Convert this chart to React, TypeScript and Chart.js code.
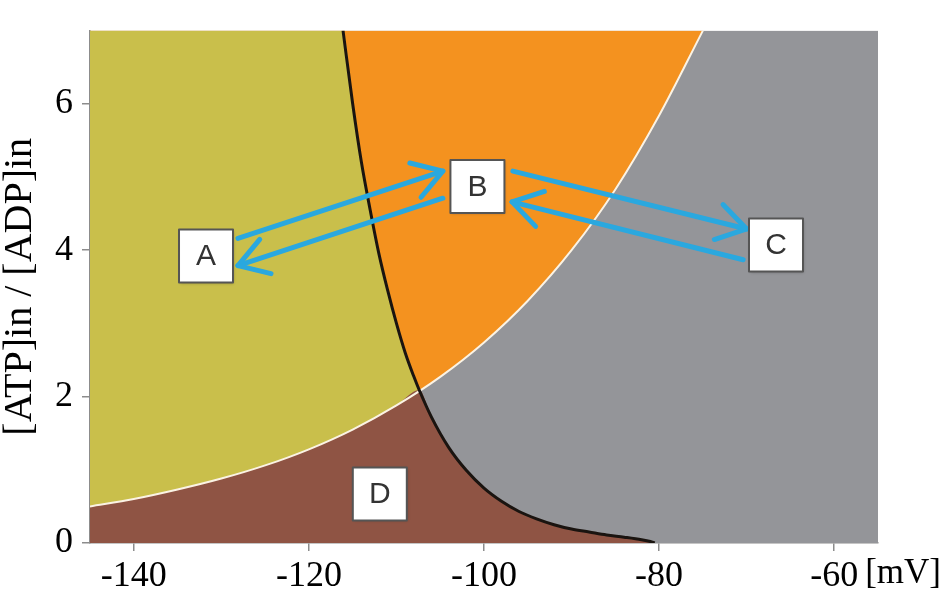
import React, { useEffect, useRef } from 'react';
import { Chart, registerables } from 'chart.js';

Chart.register(...registerables);

// Axes
const xMin = -145;
const xMax = -55;
const yMin = 0;
const yMax = 7;
const xTicks = [-140, -120, -100, -80, -60];
const yTicks = [0, 2, 4, 6];
const xUnit = '[mV]';
const yTitle = '[ATP]in / [ADP]in';

// Black boundary curve
const blackX = [-116.1, -115, -114, -113, -112, -111, -110, -109, -108, -107.4, -106, -104, -102, -100, -98, -96, -94, -92, -90, -88, -86, -84, -82, -81, -80.5];
const blackY = [7.0, 6.0, 5.2, 4.55, 3.95, 3.45, 3.0, 2.6, 2.27, 2.09, 1.72, 1.3, 0.99, 0.75, 0.57, 0.43, 0.33, 0.25, 0.19, 0.15, 0.11, 0.08, 0.045, 0.02, 0.0];

// White boundary curve
const whiteX = [-145, -140, -135, -130, -125, -120, -115, -110, -105, -100, -95, -90, -85, -80, -75];
const whiteY = [0.5, 0.6, 0.73, 0.88, 1.06, 1.28, 1.55, 1.88, 2.27, 2.74, 3.31, 4.0, 4.83, 5.84, 7.0];

// Crossing of the two curves
const crossX = -107.4;
const crossY = 2.09;

// Region colours
const greyColor = '#949599';
const orangeColor = '#f4921f';
const yellowColor = '#c9bf4b';
const brownColor = '#8f5444';

// Annotation boxes
const boxLabels = ['A', 'B', 'C', 'D'];
const boxX = [-131.75, -100.75, -66.65, -111.9];
const boxY = [3.92, 4.87, 4.07, 0.67];

// Arrows
const arrowFromX = [-128.1, -104.7, -96.7, -70.4];
const arrowFromY = [4.16, 4.71, 5.08, 3.87];
const arrowToX = [-104.7, -128.1, -70.0, -96.8];
const arrowToY = [5.08, 3.79, 4.29, 4.66];

const serif = '"Liberation Serif", "Times New Roman", Times, serif';
const sans = '"Liberation Sans", Arial, Helvetica, sans-serif';
const tickFontSize = 36;
const unitFontSize = 35;
const titleFontSize = 40;
const tickLen = 8;
const xTickPad = 4;

const pts = (xs: number[], ys: number[]) => xs.map((x, i) => ({ x, y: ys[i] }));

const annotPlugin = {
  id: 'annot',
  afterDatasetsDraw(chart: any) {
    const { ctx } = chart;
    const xs = chart.scales.x;
    const ys = chart.scales.y;
    ctx.save();
    ctx.strokeStyle = '#2aa8df';
    ctx.lineWidth = 5;
    ctx.lineCap = 'round';
    ctx.lineJoin = 'round';
    for (let i = 0; i < arrowFromX.length; i++) {
      const x1 = xs.getPixelForValue(arrowFromX[i]);
      const y1 = ys.getPixelForValue(arrowFromY[i]);
      const x2 = xs.getPixelForValue(arrowToX[i]);
      const y2 = ys.getPixelForValue(arrowToY[i]);
      ctx.beginPath();
      ctx.moveTo(x1, y1);
      ctx.lineTo(x2, y2);
      ctx.stroke();
      const ang = Math.atan2(y1 - y2, x1 - x2);
      const hl = 34;
      const ha = (32 * Math.PI) / 180;
      ctx.beginPath();
      ctx.moveTo(x2 + hl * Math.cos(ang + ha), y2 + hl * Math.sin(ang + ha));
      ctx.lineTo(x2, y2);
      ctx.lineTo(x2 + hl * Math.cos(ang - ha), y2 + hl * Math.sin(ang - ha));
      ctx.stroke();
    }
    const bw = 54;
    const bh = 53;
    for (let i = 0; i < boxLabels.length; i++) {
      const cx = xs.getPixelForValue(boxX[i]);
      const cy = ys.getPixelForValue(boxY[i]);
      ctx.fillStyle = '#ffffff';
      ctx.shadowColor = 'rgba(0,0,0,0.25)';
      ctx.shadowBlur = 3;
      ctx.shadowOffsetX = 1;
      ctx.shadowOffsetY = 1;
      ctx.fillRect(cx - bw / 2, cy - bh / 2, bw, bh);
      ctx.shadowColor = 'transparent';
      ctx.strokeStyle = '#555555';
      ctx.lineWidth = 2;
      ctx.strokeRect(cx - bw / 2, cy - bh / 2, bw, bh);
      ctx.fillStyle = '#333333';
      ctx.font = `30px ${sans}`;
      ctx.textAlign = 'center';
      ctx.textBaseline = 'middle';
      ctx.fillText(boxLabels[i], cx, cy + 1);
    }
    ctx.restore();
  },
  afterDraw(chart: any) {
    const { ctx } = chart;
    const xs = chart.scales.x;
    ctx.save();
    ctx.font = `${tickFontSize}px ${serif}`;
    const last = xTicks[xTicks.length - 1];
    const w = ctx.measureText(String(last)).width;
    ctx.font = `${unitFontSize}px ${serif}`;
    ctx.fillStyle = '#000';
    ctx.textAlign = 'left';
    ctx.textBaseline = 'top';
    const px = xs.getPixelForValue(last) + w / 2 + 7;
    ctx.fillText(xUnit, px, xs.top + tickLen + xTickPad + 1);
    ctx.restore();
  },
};

export default function App() {
  const ref = useRef<HTMLCanvasElement>(null);
  useEffect(() => {
    const yellowData = [{ x: xMin, y: yMax }, ...pts(blackX, blackY)];
    const brownData = [
      ...pts(whiteX, whiteY).filter((p) => p.x < crossX),
      { x: crossX, y: crossY },
      ...pts(blackX, blackY).filter((p) => p.x > crossX),
    ];
    const greyData = [
      { x: xMin, y: yMax },
      { x: xMax, y: yMax },
    ];
    const base = { pointRadius: 0, borderWidth: 0, cubicInterpolationMode: 'monotone' as const };
    const chart = new Chart(ref.current!, {
      type: 'line',
      data: {
        datasets: [
          { ...base, label: 'grey', data: greyData, backgroundColor: greyColor, fill: 'origin', order: 6 },
          { ...base, label: 'orange', data: pts(whiteX, whiteY), backgroundColor: orangeColor, fill: 'end', order: 5 },
          { ...base, label: 'yellow', data: yellowData, backgroundColor: yellowColor, fill: 'origin', order: 4 },
          { ...base, label: 'brown', data: brownData, backgroundColor: brownColor, fill: 'origin', order: 3 },
          { ...base, label: 'white', data: pts(whiteX, whiteY), borderColor: '#fbf3e4', borderWidth: 2, fill: false, order: 2 },
          { ...base, label: 'black', data: pts(blackX, blackY), borderColor: '#1a1410', borderWidth: 3, fill: false, order: 1 },
        ] as any,
      },
      options: {
        responsive: false,
        animation: false,
        parsing: false as any,
        layout: { padding: { top: 8, right: 63, left: 0, bottom: 0 } },
        plugins: { legend: { display: false }, tooltip: { enabled: false } },
        scales: {
          x: {
            type: 'linear',
            min: xMin,
            max: xMax,
            afterBuildTicks: (s: any) => {
              s.ticks = xTicks.map((v) => ({ value: v }));
            },
            afterFit: (s: any) => {
              s.height = 52;
            },
            grid: { drawOnChartArea: false, drawTicks: true, tickLength: tickLen, color: '#8c8c8c', lineWidth: 1.5 },
            border: { display: true, color: '#8c8c8c', width: 1.5 },
            ticks: {
              font: { family: serif, size: tickFontSize },
              color: '#000',
              padding: xTickPad,
              maxRotation: 0,
              autoSkip: false,
            },
          },
          y: {
            type: 'linear',
            min: yMin,
            max: yMax,
            afterBuildTicks: (s: any) => {
              s.ticks = yTicks.map((v) => ({ value: v }));
            },
            afterFit: (s: any) => {
              s.width = 90;
            },
            grid: { drawOnChartArea: false, drawTicks: true, tickLength: tickLen, color: '#8c8c8c', lineWidth: 1.5 },
            border: { display: true, color: '#8c8c8c', width: 1.5 },
            ticks: {
              font: { family: serif, size: tickFontSize },
              color: '#000',
              padding: 9,
              autoSkip: false,
            },
            title: {
              display: true,
              text: yTitle,
              font: { family: serif, size: titleFontSize, lineHeight: 1 },
              color: '#000',
              padding: { top: 0, bottom: 0 },
            },
          },
        },
      },
      plugins: [annotPlugin],
    });
    let alive = true;
    const refresh = () => {
      if (alive) chart.update();
    };
    if ((document as any).fonts) {
      (document as any).fonts.load(`${tickFontSize}px "Liberation Serif"`).then(refresh, refresh);
      (document as any).fonts.load(`30px "Liberation Sans"`).then(refresh, refresh);
      (document as any).fonts.ready.then(refresh);
    }
    const t1 = setTimeout(refresh, 100);
    const t2 = setTimeout(refresh, 400);
    return () => {
      alive = false;
      clearTimeout(t1);
      clearTimeout(t2);
      chart.destroy();
    };
  }, []);
  return (
    <div style={{ position: 'absolute', left: 0, top: 0, width: 941, height: 595, background: '#fff' }}>
      <div style={{ position: 'absolute', left: 0, top: 0, opacity: 0, pointerEvents: 'none', whiteSpace: 'nowrap' }}>
        <span style={{ fontFamily: serif, fontSize: 36 }}>-140 [mV]</span>
        <span style={{ fontFamily: sans, fontSize: 30 }}>ABCD</span>
      </div>
      <canvas ref={ref} width={941} height={595} style={{ display: 'block', position: 'relative' }} />
    </div>
  );
}
